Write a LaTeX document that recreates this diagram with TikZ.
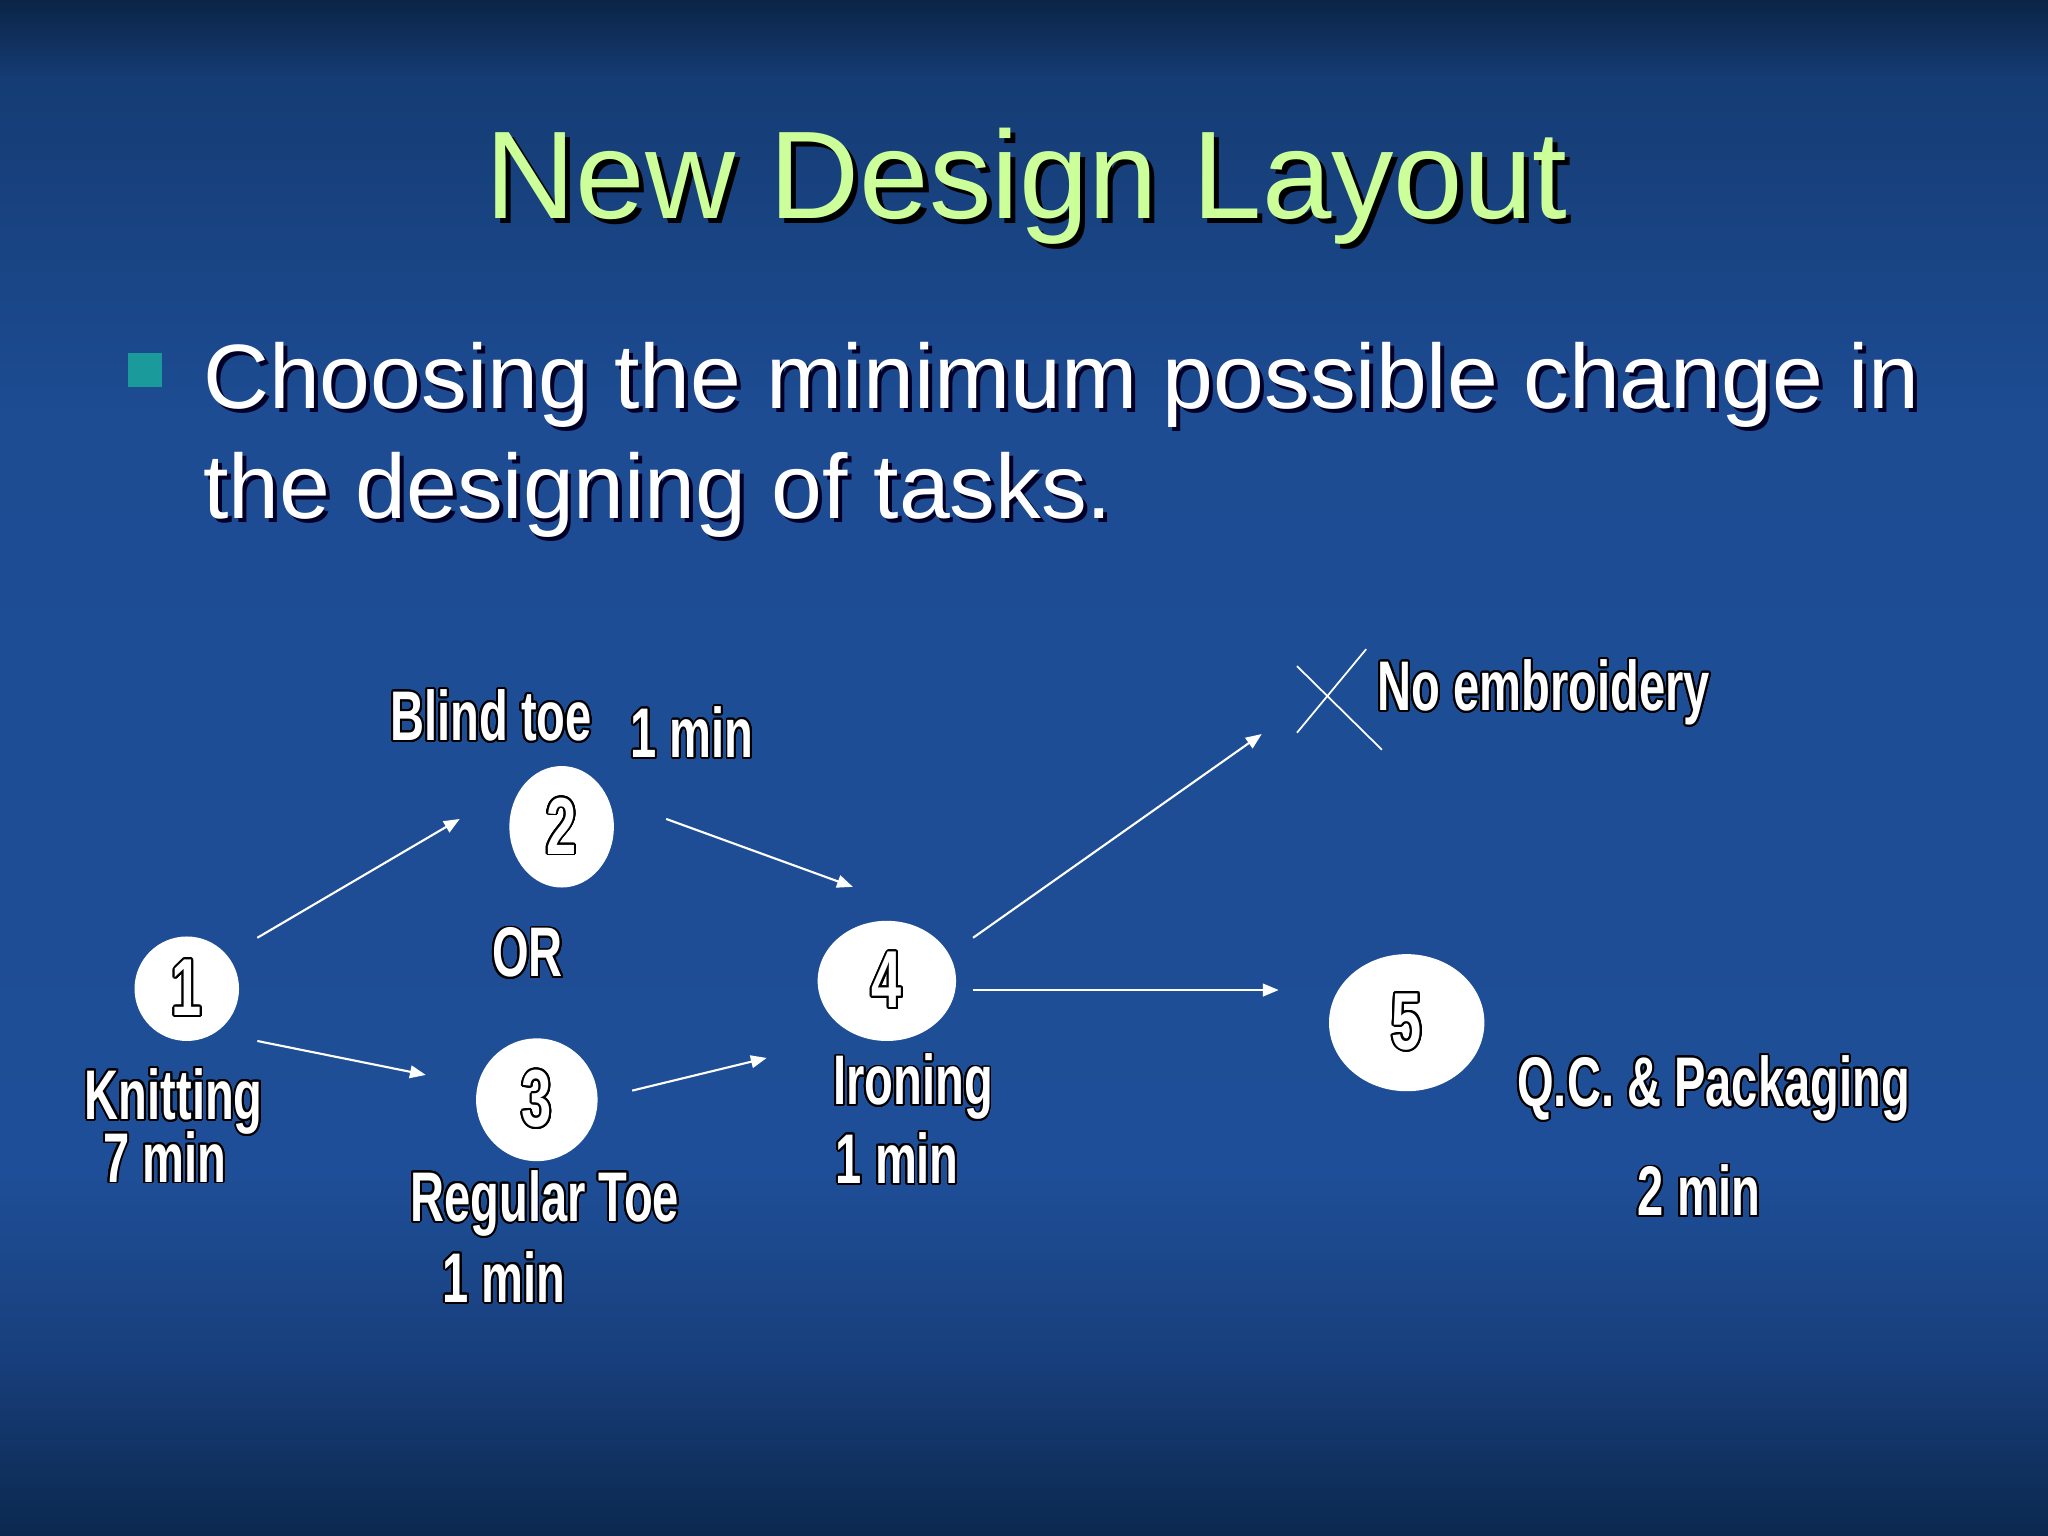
\documentclass[tikz,border=0pt]{standalone}
\usepackage{fontspec}
\setmainfont{Liberation Sans}
\newfontfamily\narrowfont[FakeStretch=0.67,UprightFont=* Bold]{Liberation Sans}
\usepackage[copies]{contour}
\contourlength{0.55pt}
\contournumber{24}
\usetikzlibrary{arrows.meta,shapes.geometric}
\definecolor{bgtop}{HTML}{0B2446}
\definecolor{bgA}{HTML}{153C74}
\definecolor{bgB}{HTML}{1D4C93}
\definecolor{bgC}{HTML}{1E4E97}
\definecolor{bgD}{HTML}{183F7C}
\definecolor{bgbot}{HTML}{0B284E}
\definecolor{titlegreen}{HTML}{CCFF99}
\definecolor{bullet}{HTML}{1A9A9A}
\newcommand\outl[1]{\contour{black}{#1}}
\tikzset{
  circ/.style={ellipse, fill=white, draw=none, inner sep=0pt, text=white,
    font=\narrowfont\fontsize{23}{23}\selectfont},
  lbl/.style={anchor=base, text=white, inner sep=0pt,
    font=\narrowfont\fontsize{20}{20}\selectfont},
  minlbl/.style={lbl, font=\narrowfont\fontsize{20}{20}\selectfont},
  arr/.style={draw=white, line width=0.6pt, -{Triangle[length=4.5pt,width=3.6pt]}},
  crossline/.style={draw=white, line width=0.5pt},
  bodytext/.style={anchor=base west, inner sep=0pt, font=\fontsize{26}{26}\selectfont}
}
\begin{document}
\begin{tikzpicture}[x=0.013061cm,y=-0.013061cm]
\useasboundingbox (0,0) rectangle (1568,1176);
% background
\shade[top color=bgtop, bottom color=bgA] (0,0) rectangle (1568,60);
\shade[top color=bgA, bottom color=bgB] (0,60) rectangle (1568,320);
\shade[top color=bgB, bottom color=bgC] (0,320) rectangle (1568,900);
\shade[top color=bgC, bottom color=bgD] (0,900) rectangle (1568,1040);
\shade[top color=bgD, bottom color=bgbot] (0,1040) rectangle (1568,1176);
% title
\node[text=black, font=\fontsize{35.5}{35.5}\selectfont, anchor=base] at (790,171) {New Design Layout};
\node[text=titlegreen, font=\fontsize{35.5}{35.5}\selectfont, anchor=base] (title) at (786,167) {New Design Layout};
% bullet
\fill[bullet] (98,270) rectangle (124,296);
\node[bodytext, text=black!85!blue] at (158,316) {Choosing the minimum possible change in};
\node[bodytext, text=white] (line1) at (155,313) {Choosing the minimum possible change in};
\node[bodytext, text=black!85!blue] at (158,400) {the designing of tasks.};
\node[bodytext, text=white] (line2) at (155,397) {the designing of tasks.};
% nodes
\node[circ, minimum width=1.045cm, minimum height=1.045cm] (n1) at (143,757) {\outl{1}};
\node[circ, minimum width=1.045cm, minimum height=1.215cm] (n2) at (430,633) {\outl{2}};
\node[circ, minimum width=1.215cm, minimum height=1.228cm] (n3) at (411,842) {\outl{3}};
\node[circ, minimum width=1.384cm, minimum height=1.202cm] (n4) at (679,751) {\outl{4}};
\node[circ, minimum width=1.554cm, minimum height=1.371cm] (n5) at (1077,783) {\outl{5}};
% connector end points
\coordinate (a12s) at (197,718); \coordinate (a12e) at (352,627);
\coordinate (a13s) at (197,797); \coordinate (a13e) at (326,823);
\coordinate (a24s) at (510,627); \coordinate (a24e) at (653,679);
\coordinate (a34s) at (484,835); \coordinate (a34e) at (587,810);
\coordinate (a4xs) at (745,718); \coordinate (a4xe) at (966,562);
\coordinate (a45s) at (745,758); \coordinate (a45e) at (979,758);
\draw[arr] (a12s) -- (a12e);
\draw[arr] (a13s) -- (a13e);
\draw[arr] (a24s) -- (a24e);
\draw[arr] (a34s) -- (a34e);
\draw[arr] (a4xs) -- (a4xe);
\draw[arr] (a45s) -- (a45e);
% cross
\coordinate (xa) at (993,561); \coordinate (xb) at (1046,497);
\coordinate (xc) at (993,510); \coordinate (xd) at (1058,574);
\draw[crossline] (xa) -- (xb);
\draw[crossline] (xc) -- (xd);
% labels
\node[lbl] (blind) at (376,567) {\outl{Blind toe}};
\node[minlbl] (blindmin) at (530,580) {\outl{1 min}};
\node[lbl] (or) at (404,748) {\outl{OR}};
\node[lbl] (knit) at (133,857) {\outl{Knitting}};
\node[minlbl] (knitmin) at (126,905) {\outl{7 min}};
\node[lbl] (reg) at (417,935) {\outl{Regular Toe}};
\node[minlbl] (regmin) at (386,997) {\outl{1 min}};
\node[lbl] (iron) at (699,846) {\outl{Ironing}};
\node[minlbl] (ironmin) at (687,906) {\outl{1 min}};
\node[lbl] (noemb) at (1182,544) {\outl{No embroidery}};
\node[lbl] (qc) at (1312,847) {\outl{Q.C. \& Packaging}};
\node[minlbl] (qcmin) at (1301,931) {\outl{2 min}};
\end{tikzpicture}
\end{document}
